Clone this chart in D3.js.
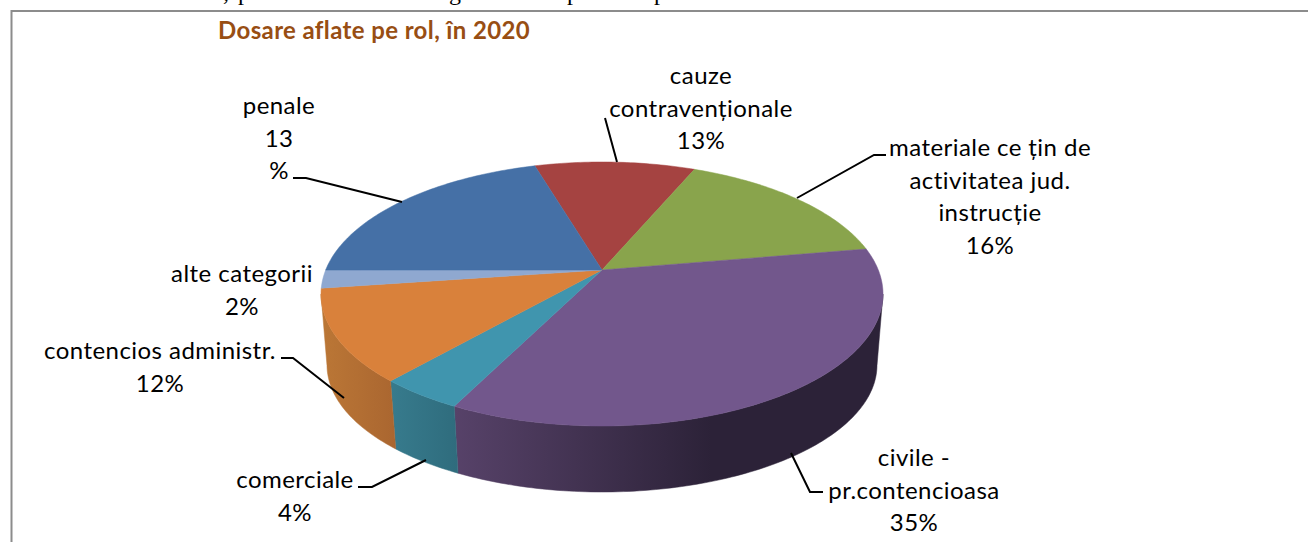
<!DOCTYPE html>
<html><head><meta charset="utf-8">
<script src="https://cdn.jsdelivr.net/npm/d3@7/dist/d3.min.js"></script>
<style>html,body{margin:0;padding:0;background:#fff}svg{display:block}text{font-family:Lato,"Open Sans",sans-serif}</style>
</head><body><svg id="c" width="1308" height="542"></svg>
<script>
// slice shares (the pie is not drawn to its printed labels)
const categories = ["cauze contravenționale","materiale ce țin de activitatea jud. instrucție","civile - pr.contencioasa","comerciale","contencios administr.","alte categorii","penale"];
const shares = [11.0,15.9,35.1,4.1,11.3,2.2,20.4];
const percentLabels = ["13%","16%","35%","4%","12%","2%","13 %"];
const topColors = ["#a54341","#89a44c","#72578c","#4095ae","#d9813b","#8fa8d0","#4570a6"];
const wallLeft  = ["#7d3231","#66793a","#574269","#377b8d","#bb7736","#6b7d9c","#345480"];
const wallRight = ["#7d3231","#66793a","#2c2238","#2f6c7d","#aa6630","#6b7d9c","#345480"];
const title = "Dosare aflate pe rol, în 2020";
const labelLines = [
  {lines:["cauze","contravenționale","13%"],x:701,y:76},
  {lines:["materiale ce țin de","activitatea jud.","instrucție","16%"],x:990,y:148},
  {lines:["civile -","pr.contencioasa","35%"],x:914,y:458},
  {lines:["comerciale","4%"],x:295,y:480},
  {lines:["contencios administr.","12%"],x:160,y:351},
  {lines:["alte categorii","2%"],x:242,y:274},
  {lines:["penale","13","%"],x:279,y:106}
];
const leaders = [
  [[617,162],[605,118]],
  [[797,198],[874,155],[886,155]],
  [[791,453],[810,492],[823,492]],
  [[426,460],[372,487],[358,487]],
  [[344,398],[293,358],[281,358]],
  [[402,202],[306,178],[293,178]]
];
// the only glyphs of the page's body text that reach into the picture
const pageFragments = [{t:",",x:223},{t:"p",x:238},{t:"g",x:449},{t:"p",x:567},{t:"p",x:654}];
const svg = d3.select("#c");

// frame
svg.append("path").attr("d","M11.5,542V11H1308").attr("fill","none").attr("stroke","#8c8c8c").attr("stroke-width",2);

svg.selectAll(null).data(pageFragments).join("text")
  .attr("x",d=>d.x).attr("y",0).attr("font-size",24)
  .attr("style","font-family:'Liberation Serif',serif").attr("fill","#000").text(d=>d.t);

svg.append("text").attr("x",218).attr("y",39).attr("font-size",24).attr("font-weight",700)
  .attr("letter-spacing",0.38).attr("fill","#984e13").text(title);

// pie geometry
const pie = d3.pie().value(d=>d).sort(null)
  .startAngle(-16.6*Math.PI/180).endAngle((360-16.6)*Math.PI/180);
const arcs = pie(shares);
const cx = 602;
// perspective disc: back / apex / front y and half width
function disc(yBack,yApex,yFront,rx){
  const cc = (2*yApex-(yFront+yBack))/(yFront-yBack);
  const a = yFront*(1+cc)-yApex;
  const d = rx*Math.sqrt(1-cc*cc);
  return t=>{
    const u=Math.sin(t), v=-Math.cos(t), w=1+cc*v;
    return [cx+d*u/w,(a*v+yApex)/w];
  };
}
const topD = disc(162,270,426,281);
const botD = disc(238,342.5,492,275);
const line = d3.line();
const sample = (p,a0,a1)=>{const n=Math.max(2,Math.ceil(Math.abs(a1-a0)*60));return d3.range(n+1).map(i=>p(a0+(a1-a0)*i/n));};
const wallMin = 100.5*Math.PI/180, wallMax = 259.5*Math.PI/180;
const defs = svg.append("defs");

// walls
arcs.forEach((s,i)=>{
  const a0=Math.max(s.startAngle,wallMin), a1=Math.min(s.endAngle,wallMax);
  if(a1<=a0) return;
  const pts = sample(topD,a0,a1).concat(sample(botD,a0,a1).reverse());
  const xs = d3.extent(pts,p=>p[0]);
  const g = defs.append("linearGradient").attr("id","w"+i).attr("gradientUnits","userSpaceOnUse")
    .attr("x1",xs[0]).attr("x2",i===2?xs[0]+(xs[1]-xs[0])*0.6:xs[1]).attr("y1",0).attr("y2",0);
  g.append("stop").attr("offset",0).attr("stop-color",wallLeft[i]);
  g.append("stop").attr("offset",1).attr("stop-color",wallRight[i]);
  svg.append("path").attr("d",line(pts)+"Z").attr("fill",`url(#w${i})`).attr("stroke",`url(#w${i})`).attr("stroke-width",0.5);
});

// top faces
const apex = [cx,270];
arcs.forEach((s,i)=>{
  const pts=[apex].concat(sample(topD,s.startAngle,s.endAngle));
  svg.append("path").attr("d",line(pts)+"Z").attr("fill",topColors[i]).attr("stroke",topColors[i]).attr("stroke-width",0.5);
});

// leader lines
leaders.forEach(l=>svg.append("path").attr("d",line(l)).attr("fill","none").attr("stroke","#000").attr("stroke-width",2));

// labels
labelLines.forEach(l=>{
  const t=svg.append("text").attr("text-anchor","middle").attr("font-size",24).attr("letter-spacing",0.45).attr("fill","#000");
  l.lines.forEach((s,i)=>t.append("tspan").attr("x",l.x).attr("y",l.y+8+i*32.5).text(s));
});
</script></body></html>
